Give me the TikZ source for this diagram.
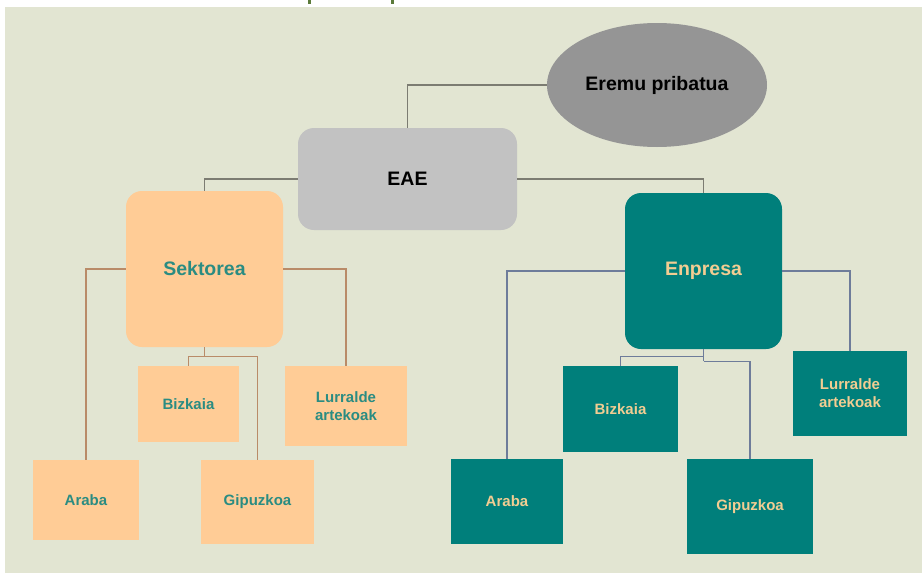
\documentclass[tikz,border=0pt]{standalone}
\usepackage{fontspec}
\setmainfont{Liberation Sans}
\usetikzlibrary{shapes.geometric,calc}
\definecolor{bgc}{HTML}{E2E5D2}
\definecolor{peach}{HTML}{FFCC96}
\definecolor{tealc}{HTML}{007F7B}
\definecolor{tealtxt}{HTML}{2A8C82}
\definecolor{peachtxt}{HTML}{F2CD92}
\definecolor{ellg}{HTML}{959595}
\definecolor{eaeg}{HTML}{C2C2C2}
\definecolor{grayline}{HTML}{7C7C72}
\definecolor{tanline}{HTML}{B98B68}
\definecolor{blueline}{HTML}{6E7C9A}
\definecolor{titlegreen}{HTML}{5B7A3A}
\tikzset{
  bigfont/.style={font=\bfseries\fontsize{19.5}{22}\selectfont},
  smallfont/.style={font=\bfseries\fontsize{15}{18}\selectfont, align=center},
  bigbox/.style={rectangle, rounded corners=16pt, inner sep=0pt, bigfont},
  smallbox/.style={rectangle, inner sep=0pt, smallfont},
  peachbig/.style={bigbox, fill=peach, text=tealtxt},
  tealbig/.style={bigbox, fill=tealc, text=peachtxt},
  peachsmall/.style={smallbox, fill=peach, text=tealtxt},
  tealsmall/.style={smallbox, fill=tealc, text=peachtxt},
  conn/.style={line width=1.2pt},
}
\begin{document}
\begin{tikzpicture}[x=1pt,y=-1pt]
\useasboundingbox (0,0) rectangle (922,573);
\fill[white] (0,0) rectangle (922,573);
\fill[bgc] (5,7) rectangle (922,573);
\fill[titlegreen] (308,0) rectangle (310.5,4);
\fill[titlegreen] (391,0) rectangle (393.5,4);

% nodes
\node[ellipse, fill=ellg, minimum width=220pt, minimum height=124pt, inner sep=0pt, bigfont, text=black] (erem) at (657,85) {Eremu pribatua};
\node[bigbox, fill=eaeg, text=black, minimum width=219pt, minimum height=102pt] (eae) at (407.5,179) {EAE};
\node[peachbig, minimum width=157pt, minimum height=156pt] (sek) at (204.5,269) {Sektorea};
\node[tealbig, minimum width=157pt, minimum height=156pt] (enp) at (703.5,271) {Enpresa};

\node[peachsmall, minimum width=101pt, minimum height=76pt] (lb) at (188.5,404) {Bizkaia};
\node[peachsmall, minimum width=122pt, minimum height=80pt] (ll) at (346,406) {Lurralde\\artekoak};
\node[peachsmall, minimum width=106pt, minimum height=80pt] (la) at (86,500) {Araba};
\node[peachsmall, minimum width=113pt, minimum height=84pt] (lg) at (257.5,502) {Gipuzkoa};

\node[tealsmall, minimum width=115pt, minimum height=86pt] (rb) at (620.5,409) {Bizkaia};
\node[tealsmall, minimum width=114pt, minimum height=85pt] (rl) at (850,393.5) {Lurralde\\artekoak};
\node[tealsmall, minimum width=112pt, minimum height=85pt] (ra) at (507,501.5) {Araba};
\node[tealsmall, minimum width=126pt, minimum height=95pt] (rg) at (750,506.5) {Gipuzkoa};

% connectors
\draw[conn, grayline] (eae.north) |- (erem.west);
\draw[conn, grayline] (eae.east) -| (enp.north);
\draw[conn, grayline] (eae.west) -| (sek.north);

\draw[conn, tanline] (sek.west) -| (la.north);
\draw[conn, tanline] (sek.east) -| (ll.north);
\coordinate (sj) at ($(sek.south)+(0,9)$);
\draw[conn, tanline] (sek.south) -- (sj);
\draw[conn, tanline] (lb.north) |- (sj) -| (lg.north);

\draw[conn, blueline] (enp.west) -| (ra.north);
\draw[conn, blueline] (enp.east) -| (rl.north);
\coordinate (ej1) at ($(enp.south)+(0,7)$);
\coordinate (ej2) at ($(enp.south)+(0,12)$);
\draw[conn, blueline] (enp.south) -- (ej2);
\draw[conn, blueline] (rb.north) |- (ej1);
\draw[conn, blueline] (ej2) -| (rg.north);
\end{tikzpicture}
\end{document}
